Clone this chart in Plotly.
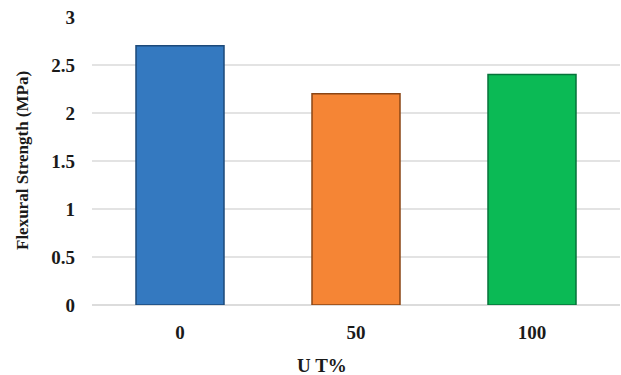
import plotly.graph_objects as go

# Flexural strength by U T% replacement level
categories = ["0", "50", "100"]
strength = [2.7, 2.2, 2.4]
bar_colors = ["#3479c0", "#f58535", "#0bba55"]
edge_colors = ["#1d4a7a", "#8a4515", "#06733a"]
y_ticks = [0, 0.5, 1, 1.5, 2, 2.5, 3]
y_tick_text = ["0", "0.5", "1", "1.5", "2", "2.5", "3"]

font_family = "Liberation Serif"

fig = go.Figure(
    go.Bar(
        x=categories,
        y=strength,
        width=0.5,
        marker=dict(color=bar_colors, line=dict(color=edge_colors, width=1.5)),
    )
)

fig.update_layout(
    width=621,
    height=375,
    margin=dict(l=92, r=1, t=17, b=70),
    plot_bgcolor="white",
    paper_bgcolor="white",
    showlegend=False,
    font=dict(family=font_family, size=19, color="#1a1a1a"),
    xaxis=dict(
        showgrid=False,
        showline=False,
        zeroline=False,
        ticks="",
        ticklabelstandoff=14,
        tickfont=dict(family=font_family, size=19, color="#1a1a1a", weight="bold"),
    ),
    yaxis=dict(
        range=[0, 3],
        tickvals=y_ticks,
        ticktext=y_tick_text,
        showgrid=True,
        gridcolor="#e3e3e3",
        gridwidth=1.5,
        zeroline=True,
        zerolinecolor="#dcdcdc",
        zerolinewidth=1.5,
        showline=False,
        ticks="",
        ticklabelstandoff=16,
        tickfont=dict(family=font_family, size=19, color="#1a1a1a", weight="bold"),
    ),
    annotations=[
        dict(
            text="<b>Flexural Strength (MPa)</b>",
            xref="paper", yref="paper",
            x=(22 - 92) / 528, y=0.5,
            xanchor="center", yanchor="middle",
            textangle=-90, showarrow=False,
            font=dict(family=font_family, size=17, color="#1a1a1a"),
        ),
        dict(
            text="<b>U T%</b>",
            xref="paper", yref="paper",
            x=(322 - 92) / 528, y=-(365 - 305) / 288,
            xanchor="center", yanchor="middle",
            showarrow=False,
            font=dict(family=font_family, size=19, color="#1a1a1a"),
        ),
    ],
)

fig.write_html("out.html")
